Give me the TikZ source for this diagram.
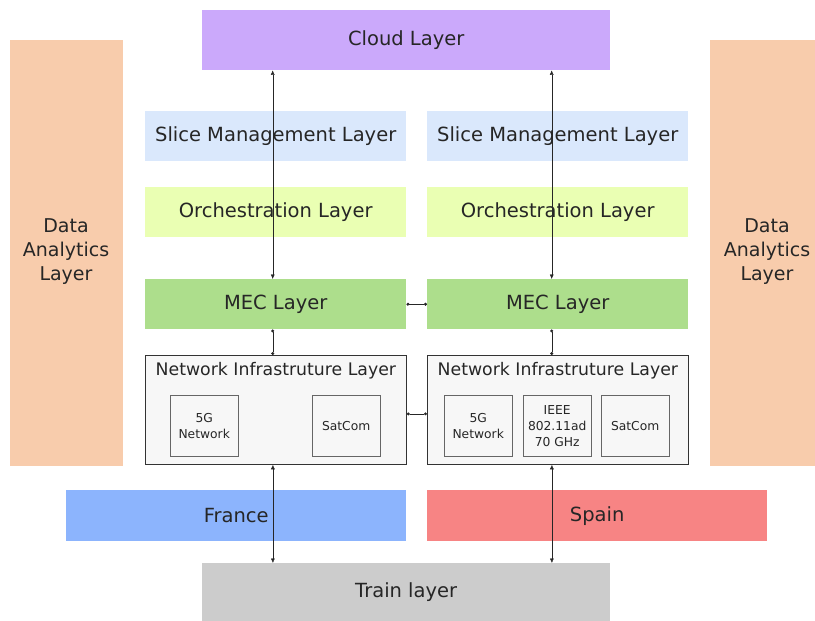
\documentclass[tikz,border=0pt]{standalone}
\usepackage{fontspec}
\setmainfont{DejaVu Sans}
\usetikzlibrary{arrows.meta}

\definecolor{cloudc}{HTML}{CBA9FB}
\definecolor{analytc}{HTML}{F8CCAC}
\definecolor{slicec}{HTML}{DAE8FC}
\definecolor{orchc}{HTML}{EAFFB3}
\definecolor{mecc}{HTML}{ADDE8C}
\definecolor{francec}{HTML}{8CB4FD}
\definecolor{spainc}{HTML}{F78484}
\definecolor{trainc}{HTML}{CCCCCC}
\definecolor{netc}{HTML}{F7F7F7}
\definecolor{txtc}{HTML}{262626}

\begin{document}
\begin{tikzpicture}[x=1pt, y=-1pt,
	layer/.style={anchor=north west, inner sep=0pt, minimum height=50pt, minimum width=261pt, text=txtc, font=\fontsize{19.5}{23}\selectfont},
	netbox/.style={anchor=north west, draw=black!80, thick, fill=netc, minimum width=261pt, minimum height=109pt, inner sep=0pt},
	tech/.style={anchor=north west, draw=black!60, fill=netc, minimum width=68pt, minimum height=61pt, inner sep=0pt, align=center, text=txtc, font=\fontsize{12.3}{16}\selectfont},
	link/.style={black!85, {Latex[length=4.5pt,width=4pt]}-{Latex[length=4.5pt,width=4pt]}},
	dot/.style={black!85, {Circle[length=3pt]}-{Circle[length=3pt]}}]
	
	\useasboundingbox (0,0) rectangle (815,621);
	
	% side bars
	\fill[analytc] (10,40) rectangle (123,466);
	\node[align=center, text=txtc, font=\fontsize{19}{24}\selectfont] (anaL) at (66,252) {Data\\Analytics\\Layer};
	\fill[analytc] (710,40) rectangle (815,466);
	\node[align=center, text=txtc, font=\fontsize{19}{24}\selectfont] (anaR) at (767,252) {Data\\Analytics\\Layer};
	
	% top and bottom
	\node[layer, fill=cloudc, minimum width=408pt, minimum height=60pt] (cloud) at (202,10) {Cloud Layer};
	\node[layer, fill=trainc, minimum width=408pt, minimum height=58pt] (train) at (202,563) {Train layer};
	
	% left stack
	\node[layer, fill=slicec] (sliceL) at (145,111) {Slice Management Layer};
	\node[layer, fill=orchc] (orchL) at (145,187) {Orchestration Layer};
	\node[layer, fill=mecc] (mecL) at (145,279) {MEC Layer};
	\node[netbox] (netL) at (145,355) {};
	\node[below=4pt, text=txtc, font=\fontsize{17.3}{20}\selectfont] (netLt) at (netL.north) {Network Infrastruture Layer};
	\node[tech] (fivegL) at (170,395) {5G\\Network};
	\node[tech] (satL) at (312,395) {SatCom};
	
	% right stack
	\node[layer, fill=slicec] (sliceR) at (427,111) {Slice Management Layer};
	\node[layer, fill=orchc] (orchR) at (427,187) {Orchestration Layer};
	\node[layer, fill=mecc] (mecR) at (427,279) {MEC Layer};
	\node[netbox] (netR) at (427,355) {};
	\node[below=4pt, text=txtc, font=\fontsize{17.3}{20}\selectfont] (netRt) at (netR.north) {Network Infrastruture Layer};
	\node[tech] (fivegR) at (444,395) {5G\\Network};
	\node[tech] (ieeeR) at (523,395) {IEEE\\802.11ad\\70 GHz};
	\node[tech] (satR) at (601,395) {SatCom};
	
	% countries
	\node[layer, fill=francec, minimum width=340pt, minimum height=51pt] (france) at (66,490) {France};
	\node[layer, fill=spainc, minimum width=340pt, minimum height=51pt] (spain) at (427,490) {Spain};
	
	% connectors
	\draw[link] ([xshift=-3pt]mecL.north) -- ([xshift=-3pt]mecL.north |- cloud.south);
	\draw[link] ([xshift=-6pt]mecR.north) -- ([xshift=-6pt]mecR.north |- cloud.south);
	\draw[dot] ([xshift=-3pt]mecL.south) -- ([xshift=-3pt]mecL.south |- netL.north);
	\draw[dot] ([xshift=-6pt]mecR.south) -- ([xshift=-6pt]mecR.south |- netR.north);
	\draw[dot] (mecL.east) -- (mecR.west);
	\draw[dot] ([yshift=-4pt]netL.east) -- ([yshift=-4pt]netR.west);
	\draw[link] ([xshift=-3pt]netL.south) -- ([xshift=-3pt]netL.south |- train.north);
	\draw[link] ([xshift=-6pt]netR.south) -- ([xshift=-6pt]netR.south |- train.north);
	
\end{tikzpicture}
\end{document}
